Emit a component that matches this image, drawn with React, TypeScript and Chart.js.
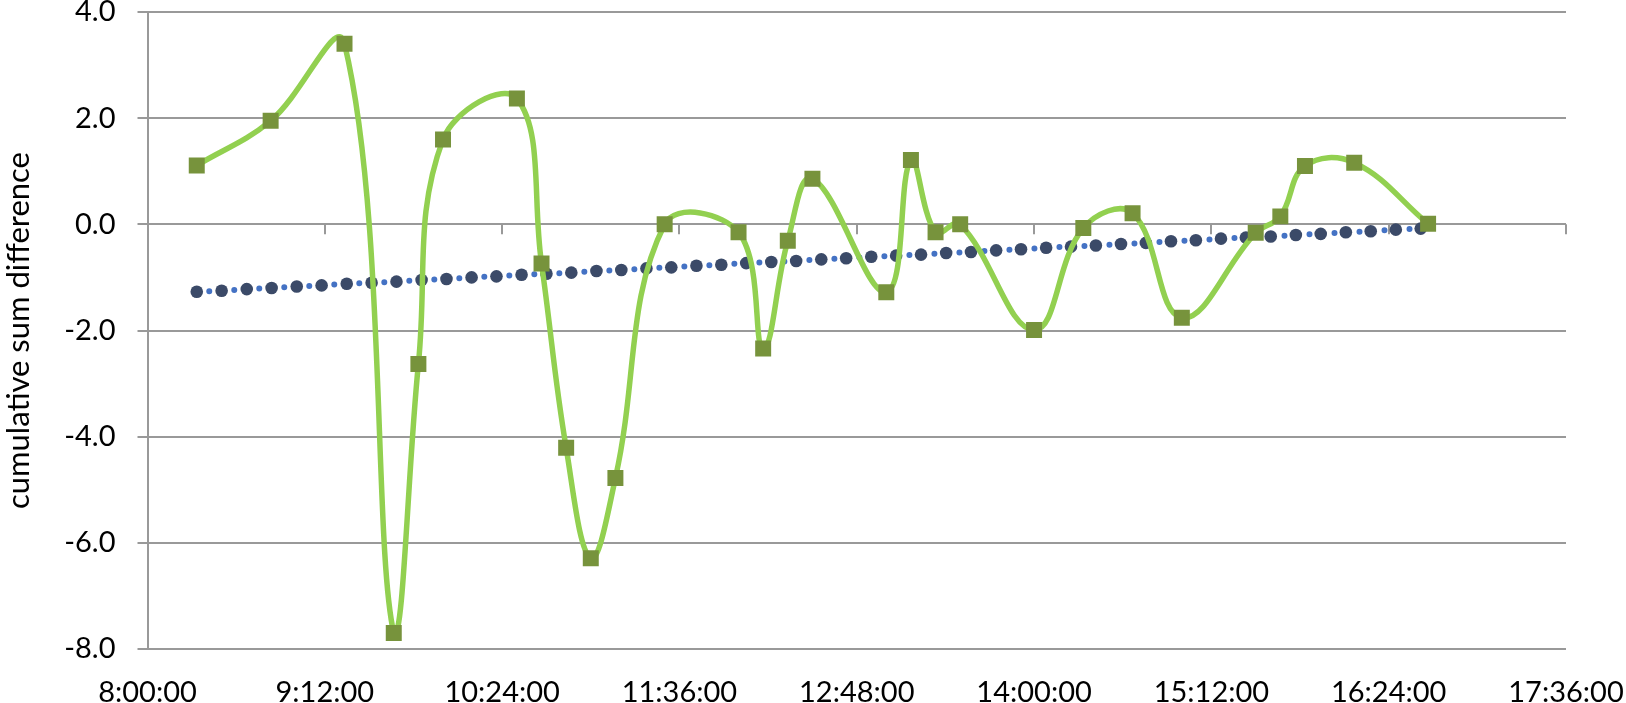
import React, { useEffect, useRef } from "react";
import { Chart, registerables } from "chart.js";

Chart.register(...registerables);

// minutes after 8:00:00
const sampleMinutes = [20, 50, 80, 100, 110, 120, 150, 160, 170, 180, 190, 210, 240, 250, 260, 270, 300, 310, 320, 330, 360, 380, 400, 420, 450, 460, 470, 490, 520];
const cumulativeDiff = [1.11, 1.95, 3.4, -7.7, -2.63, 1.6, 2.37, -0.74, -4.21, -6.29, -4.78, 0.0, -0.15, -2.34, -0.31, 0.86, -1.28, 1.21, -0.15, 0.0, -1.99, -0.07, 0.21, -1.76, -0.16, 0.15, 1.1, 1.16, 0.01];

const trendMinutes = [20.0, 30.1, 40.3, 50.4, 60.6, 70.7, 80.9, 91.0, 101.1, 111.3, 121.4, 131.6, 141.7, 151.9, 162.0, 172.1, 182.3, 192.4, 202.6, 212.7, 222.9, 233.0, 243.1, 253.3, 263.4, 273.6, 283.7, 293.9, 304.0, 314.1, 324.3, 334.4, 344.6, 354.7, 364.9, 375.0, 385.1, 395.3, 405.4, 415.6, 425.7, 435.9, 446.0, 456.1, 466.3, 476.4, 486.6, 496.7, 506.9, 517.0];
const trendValues = [-1.27, -1.25, -1.22, -1.2, -1.17, -1.15, -1.12, -1.1, -1.08, -1.05, -1.03, -1.0, -0.98, -0.95, -0.93, -0.91, -0.88, -0.86, -0.83, -0.81, -0.78, -0.76, -0.73, -0.71, -0.69, -0.66, -0.64, -0.61, -0.59, -0.57, -0.54, -0.52, -0.49, -0.47, -0.44, -0.42, -0.4, -0.37, -0.35, -0.32, -0.3, -0.27, -0.25, -0.23, -0.2, -0.18, -0.15, -0.13, -0.1, -0.08];

const xTickValues = [0, 72, 144, 216, 288, 360, 432, 504, 576];
const xTickLabels = ["8:00:00", "9:12:00", "10:24:00", "11:36:00", "12:48:00", "14:00:00", "15:12:00", "16:24:00", "17:36:00"];
const yTickValues = [-8, -6, -4, -2, 0, 2, 4];
const yTickLabels = ["-8.0", "-6.0", "-4.0", "-2.0", "0.0", "2.0", "4.0"];
const yAxisTitle = "cumulative sum difference";

const GRID = "#999999";
const FONT = "Lato";

const zeroTicks = {
  id: "zeroTicks",
  beforeDatasetsDraw(chart: any) {
    const { ctx, scales } = chart;
    const x = scales.x;
    const y = scales.y;
    const y0 = y.getPixelForValue(0);
    ctx.save();
    ctx.strokeStyle = GRID;
    ctx.lineWidth = 2;
    xTickValues.forEach((v) => {
      const px = Math.round(x.getPixelForValue(v));
      ctx.beginPath();
      ctx.moveTo(px, y0);
      ctx.lineTo(px, y0 + 10);
      ctx.stroke();
    });
    ctx.restore();
  },
};

export default function App() {
  const ref = useRef<HTMLCanvasElement>(null);
  useEffect(() => {
    if (!ref.current) return;
    const chart = new Chart(ref.current, {
      type: "line",
      data: {
        datasets: [
          {
            label: "cumulative sum difference",
            data: sampleMinutes.map((m, i) => ({ x: m, y: cumulativeDiff[i] })),
            borderColor: "#92D050",
            borderWidth: 5.5,
            tension: 0.4,
            pointStyle: "rect",
            pointRadius: 11.3,
            pointBackgroundColor: "#77933C",
            pointBorderColor: "#77933C",
            pointBorderWidth: 0,
            fill: false,
          },
          {
            label: "trend",
            data: trendMinutes.map((m, i) => ({ x: m, y: trendValues[i] })),
            borderColor: "#4472C4",
            borderWidth: 6,
            borderDash: [0, 12.52],
            borderCapStyle: "round",
            tension: 0,
            pointStyle: "circle",
            pointRadius: 6.3,
            pointBackgroundColor: "#3B4A68",
            pointBorderColor: "#3B4A68",
            pointBorderWidth: 0,
            fill: false,
          },
        ],
      },
      options: {
        animation: false,
        responsive: true,
        maintainAspectRatio: false,
        layout: { padding: { top: 12, right: 60, left: 0, bottom: 0 } },
        plugins: { legend: { display: false }, tooltip: { enabled: false } },
        scales: {
          x: {
            type: "linear",
            min: 0,
            max: 576,
            afterBuildTicks: (s: any) => {
              s.ticks = xTickValues.map((v) => ({ value: v }));
            },
            afterFit: (s: any) => {
              s.height = 54;
              s.paddingLeft = 0;
              s.paddingRight = 0;
            },
            grid: { display: false, drawTicks: false },
            border: { display: false },
            ticks: {
              padding: 26,
              color: "#000",
              font: { family: FONT, size: 29 },
              maxRotation: 0,
              autoSkip: false,
              callback: (v: any) => xTickLabels[xTickValues.indexOf(Number(v))] ?? "",
            },
          },
          y: {
            min: -8,
            max: 4,
            afterBuildTicks: (s: any) => {
              s.ticks = yTickValues.map((v) => ({ value: v }));
            },
            afterFit: (s: any) => {
              s.width = 147.5;
              s.paddingTop = 0;
              s.paddingBottom = 0;
            },
            grid: { color: GRID, lineWidth: 2, tickLength: 10, drawTicks: true },
            border: { display: true, color: GRID, width: 2 },
            ticks: {
              padding: 22,
              color: "#000",
              font: { family: FONT, size: 29 },
              callback: (v: any) => yTickLabels[yTickValues.indexOf(Number(v))] ?? "",
            },
            title: {
              display: true,
              text: yAxisTitle,
              color: "#000",
              font: { family: FONT, size: 31 },
              padding: { top: 0, bottom: 0 },
            },
          },
        },
      },
      plugins: [zeroTicks],
    });
    return () => chart.destroy();
  }, []);

  return (
    <div style={{ position: "fixed", left: 0, top: 0, width: 1626, height: 703, background: "#fff" }}>
      <canvas ref={ref} />
    </div>
  );
}
